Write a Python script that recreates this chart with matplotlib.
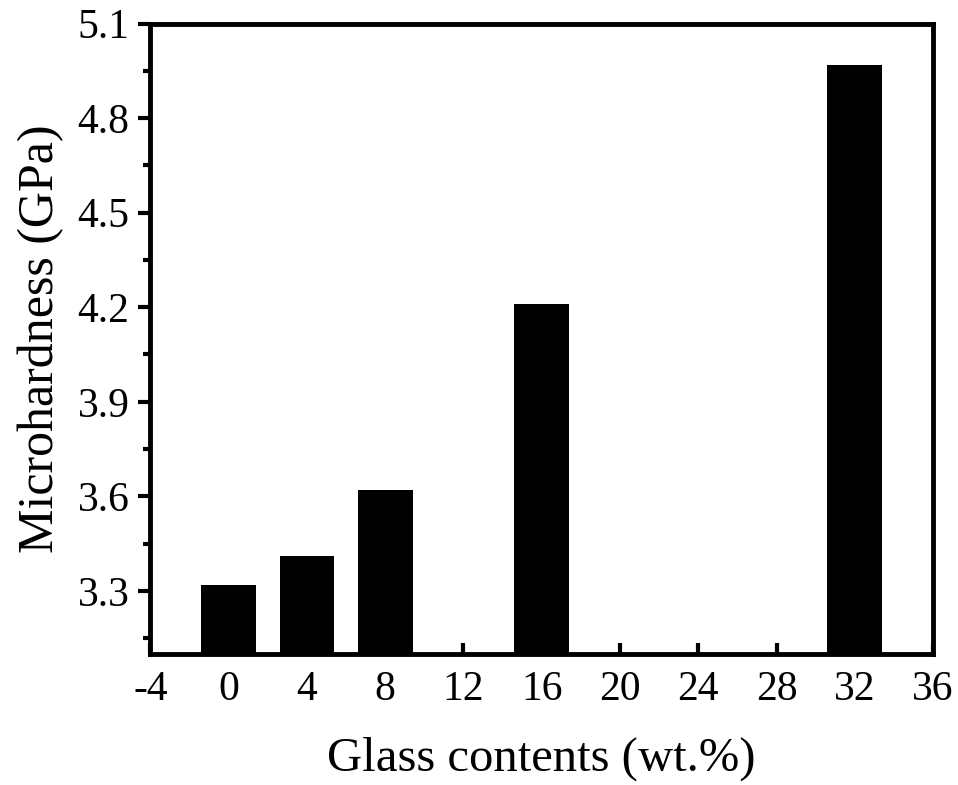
"""Microhardness vs glass content bar chart."""

import matplotlib

matplotlib.use("Agg")
import matplotlib.pyplot as plt
from matplotlib.ticker import MultipleLocator

plt.rcParams["font.family"] = ["Liberation Serif", "DejaVu Serif"]
plt.rcParams["axes.unicode_minus"] = False

glass_content = [0, 4, 8, 16, 32]
microhardness = [3.32, 3.41, 3.62, 4.21, 4.97]
x_ticks = [-4, 0, 4, 8, 12, 16, 20, 24, 28, 32, 36]

fig, ax = plt.subplots(figsize=(9.58, 7.85), dpi=100)
fig.subplots_adjust(left=0.157, right=0.974, top=0.970, bottom=0.167)

ax.bar(glass_content, microhardness, width=2.8, bottom=0, color="black")

ax.set_xlim(-4, 36)
ax.set_ylim(3.1, 5.1)
ax.set_xticks(x_ticks)
ax.yaxis.set_major_locator(MultipleLocator(0.3))
ax.yaxis.set_minor_locator(MultipleLocator(0.15))
ax.set_yticks([3.3, 3.6, 3.9, 4.2, 4.5, 4.8, 5.1])
ax.set_yticklabels(["3.3", "3.6", "3.9", "4.2", "4.5", "4.8", "5.1"])

for side in ax.spines.values():
    side.set_linewidth(3.5)

ax.tick_params(axis="x", direction="in", length=8, width=3, labelsize=30, pad=12)
ax.tick_params(axis="y", which="major", direction="out", length=9, width=3,
               labelsize=30, pad=6)
ax.tick_params(axis="y", which="minor", direction="out", length=5, width=3)

ax.set_xlabel("Glass contents (wt.%)", fontsize=35, labelpad=20)
ax.set_ylabel("Microhardness (GPa)", fontsize=36, labelpad=10)

fig.savefig("out.png", dpi=100)
